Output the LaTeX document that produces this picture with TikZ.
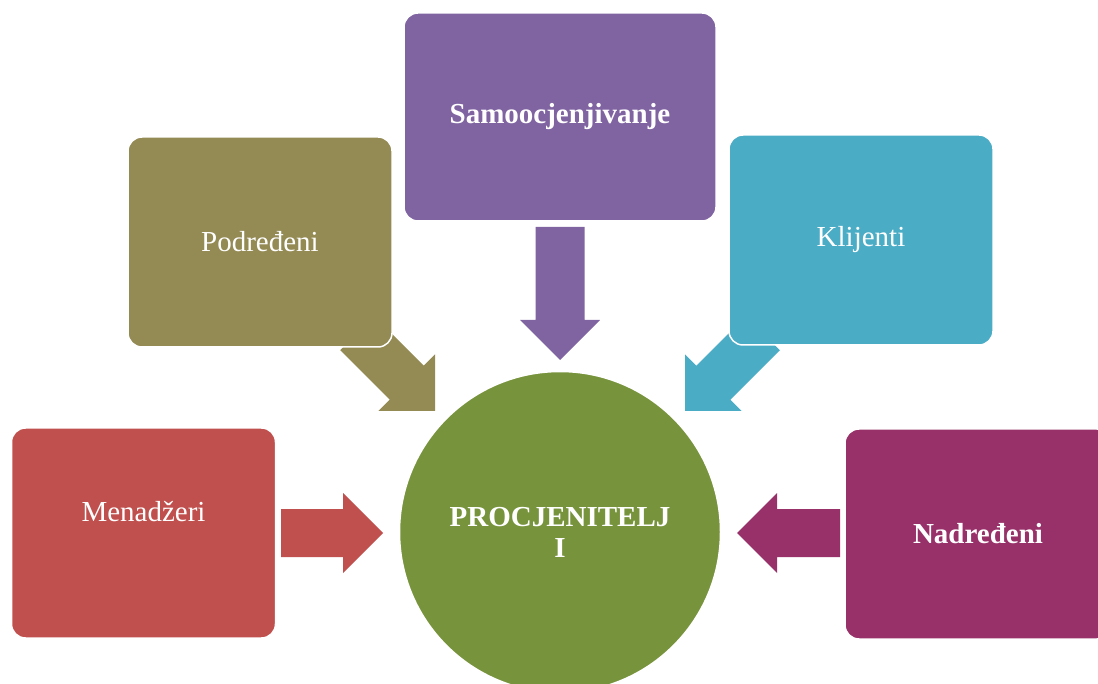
\documentclass[tikz,border=0pt]{standalone}
\usepackage{fontspec}
\setmainfont{Liberation Serif}
\definecolor{cmen}{HTML}{C0504D}
\definecolor{cpod}{HTML}{948A54}
\definecolor{csamo}{HTML}{8064A2}
\definecolor{ckli}{HTML}{4BACC6}
\definecolor{cnad}{HTML}{983169}
\definecolor{cproc}{HTML}{77933C}
\begin{document}
\begin{tikzpicture}[x=1pt,y=-1pt,
  box/.style={rectangle, rounded corners=14pt, draw=white, line width=1.5pt,
    minimum width=264pt, minimum height=210pt, text=white, inner sep=0pt,
    font=\fontsize{29}{31}\selectfont},
  boldtxt/.style={font=\fontsize{29}{31}\selectfont\bfseries},
  blockarrow/.style={draw=none}]
\useasboundingbox (0,0) rectangle (1098,684);
\clip (0,0) rectangle (1098,684);
% block arrows
\fill[cmen] (281,509) -- (343,509) -- (343,493) -- (383,533) -- (343,573) -- (343,557) -- (281,557) -- cycle;
\fill[cnad] (840,509) -- (777,509) -- (777,493) -- (737,533) -- (777,573) -- (777,557) -- (840,557) -- cycle;
\fill[csamo] (535.5,227) -- (535.5,320) -- (520,320) -- (560,360) -- (600,320) -- (584.5,320) -- (584.5,227) -- cycle;
\fill[cpod] (340.2,350.2) -- (389.7,399.7) -- (378.4,411) -- (435,411) -- (435,354.4) -- (423.7,365.7) -- (374.2,316.2) -- cycle;
\fill[ckli] (779.8,350.2) -- (730.3,399.7) -- (741.6,411) -- (685,411) -- (685,354.4) -- (696.3,365.7) -- (745.8,316.2) -- cycle;
% boxes
\node[box, fill=cmen] (men) at (143.5,533) {};
\node[text=white, font=\fontsize{29}{31}\selectfont] (mentxt) at (143.5,512) {Menadžeri};
\node[box, fill=cpod] (pod) at (260,242) {Podređeni};
\node[box, fill=csamo, minimum width=312pt, minimum height=208pt, boldtxt] (samo) at (560,117) {Samoocjenjivanje};
\node[box, fill=ckli] (kli) at (861,240) {Klijenti};
\node[box, fill=cnad, minimum width=266pt, boldtxt] (nad) at (978,534) {Nadređeni};
% centre
\node[circle, fill=cproc, draw=white, line width=1.5pt, minimum size=321pt, inner sep=0pt,
  text=white, align=center, boldtxt] (proc) at (560,532) {PROCJENITELJ\\I};
\end{tikzpicture}
\end{document}
